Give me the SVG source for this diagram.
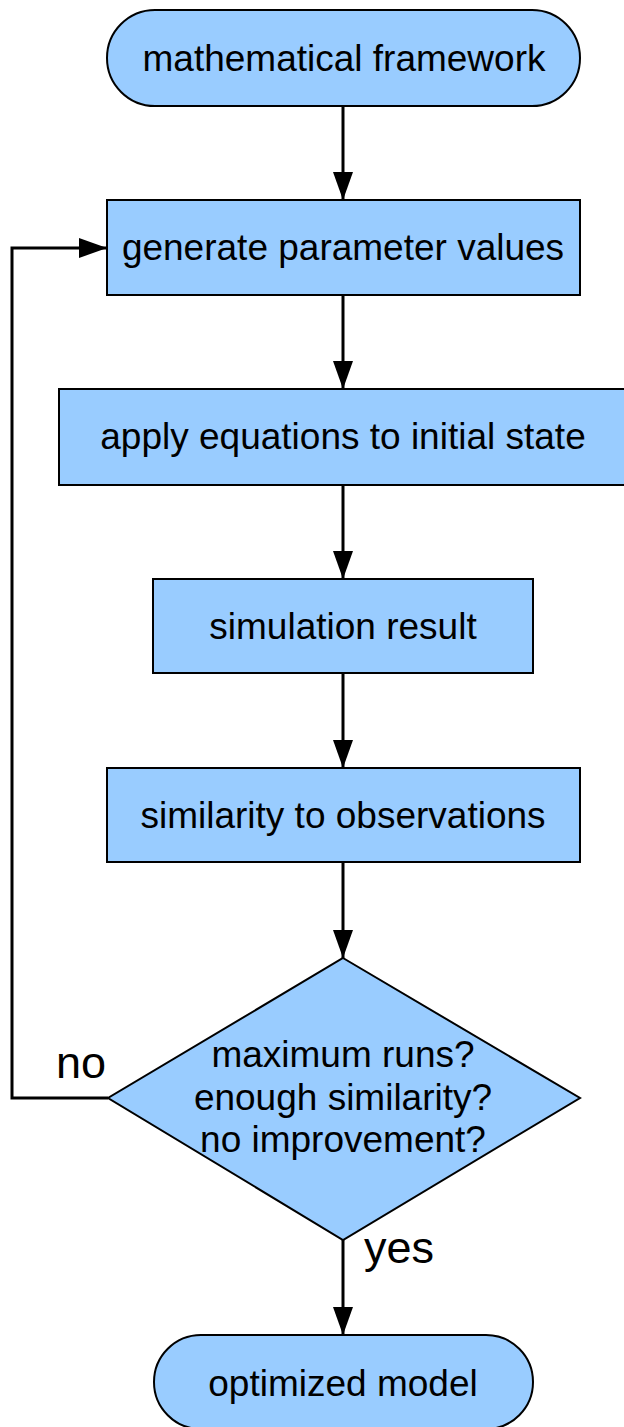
<svg xmlns="http://www.w3.org/2000/svg" width="624" height="1427" viewBox="0 0 624 1427">
<style>
.n{fill:#99ccff;stroke:#000;stroke-width:2}
.t{font-family:"Liberation Sans",Arial,sans-serif;font-size:37px;fill:#000;text-anchor:middle}
.l{font-family:"Liberation Sans",Arial,sans-serif;font-size:45px;fill:#000;text-anchor:middle}
.c{fill:none;stroke:#000;stroke-width:3;marker-end:url(#ah)}
</style>
<defs>
<marker id="ah" markerUnits="userSpaceOnUse" markerWidth="28" markerHeight="20" refX="28" refY="10" orient="auto">
<path d="M0,0 L28,10 L0,20 z" fill="#000"/>
</marker>
</defs>
<rect width="624" height="1427" fill="#fff"/>
<g id="connectors">
<path class="c" d="M343,106 V200"/>
<path class="c" d="M343,295 V389"/>
<path class="c" d="M343,485 V579"/>
<path class="c" d="M343,673 V768"/>
<path class="c" d="M343,862 V958"/>
<path class="c" d="M343,1240 V1335"/>
<path class="c" d="M108,1098 H12 V248 H107"/>
<text class="l" x="81" y="1078">no</text>
<text class="l" x="399" y="1263">yes</text>
</g>
<g id="n1">
<rect class="n" x="107" y="10" width="473" height="96" rx="48"/>
<text class="t" x="344" y="71">mathematical framework</text>
</g>
<g id="n2">
<rect class="n" x="107" y="200" width="473" height="95"/>
<text class="t" x="343" y="260">generate parameter values</text>
</g>
<g id="n3">
<rect class="n" x="59" y="389" width="566" height="96"/>
<text class="t" x="343" y="449">apply equations to initial state</text>
</g>
<g id="n4">
<rect class="n" x="153" y="579" width="380" height="94"/>
<text class="t" x="343" y="639">simulation result</text>
</g>
<g id="n5">
<rect class="n" x="107" y="768" width="473" height="94"/>
<text class="t" x="343" y="828">similarity to observations</text>
</g>
<g id="n6">
<path class="n" d="M343,958 L580,1098 L343,1240 L108,1098 Z"/>
<text class="t" x="343" y="1067">maximum runs?</text>
<text class="t" x="343" y="1110">enough similarity?</text>
<text class="t" x="343" y="1152">no improvement?</text>
</g>
<g id="n7">
<rect class="n" x="154" y="1335" width="379" height="94" rx="47"/>
<text class="t" x="343" y="1396">optimized model</text>
</g>
</svg>
